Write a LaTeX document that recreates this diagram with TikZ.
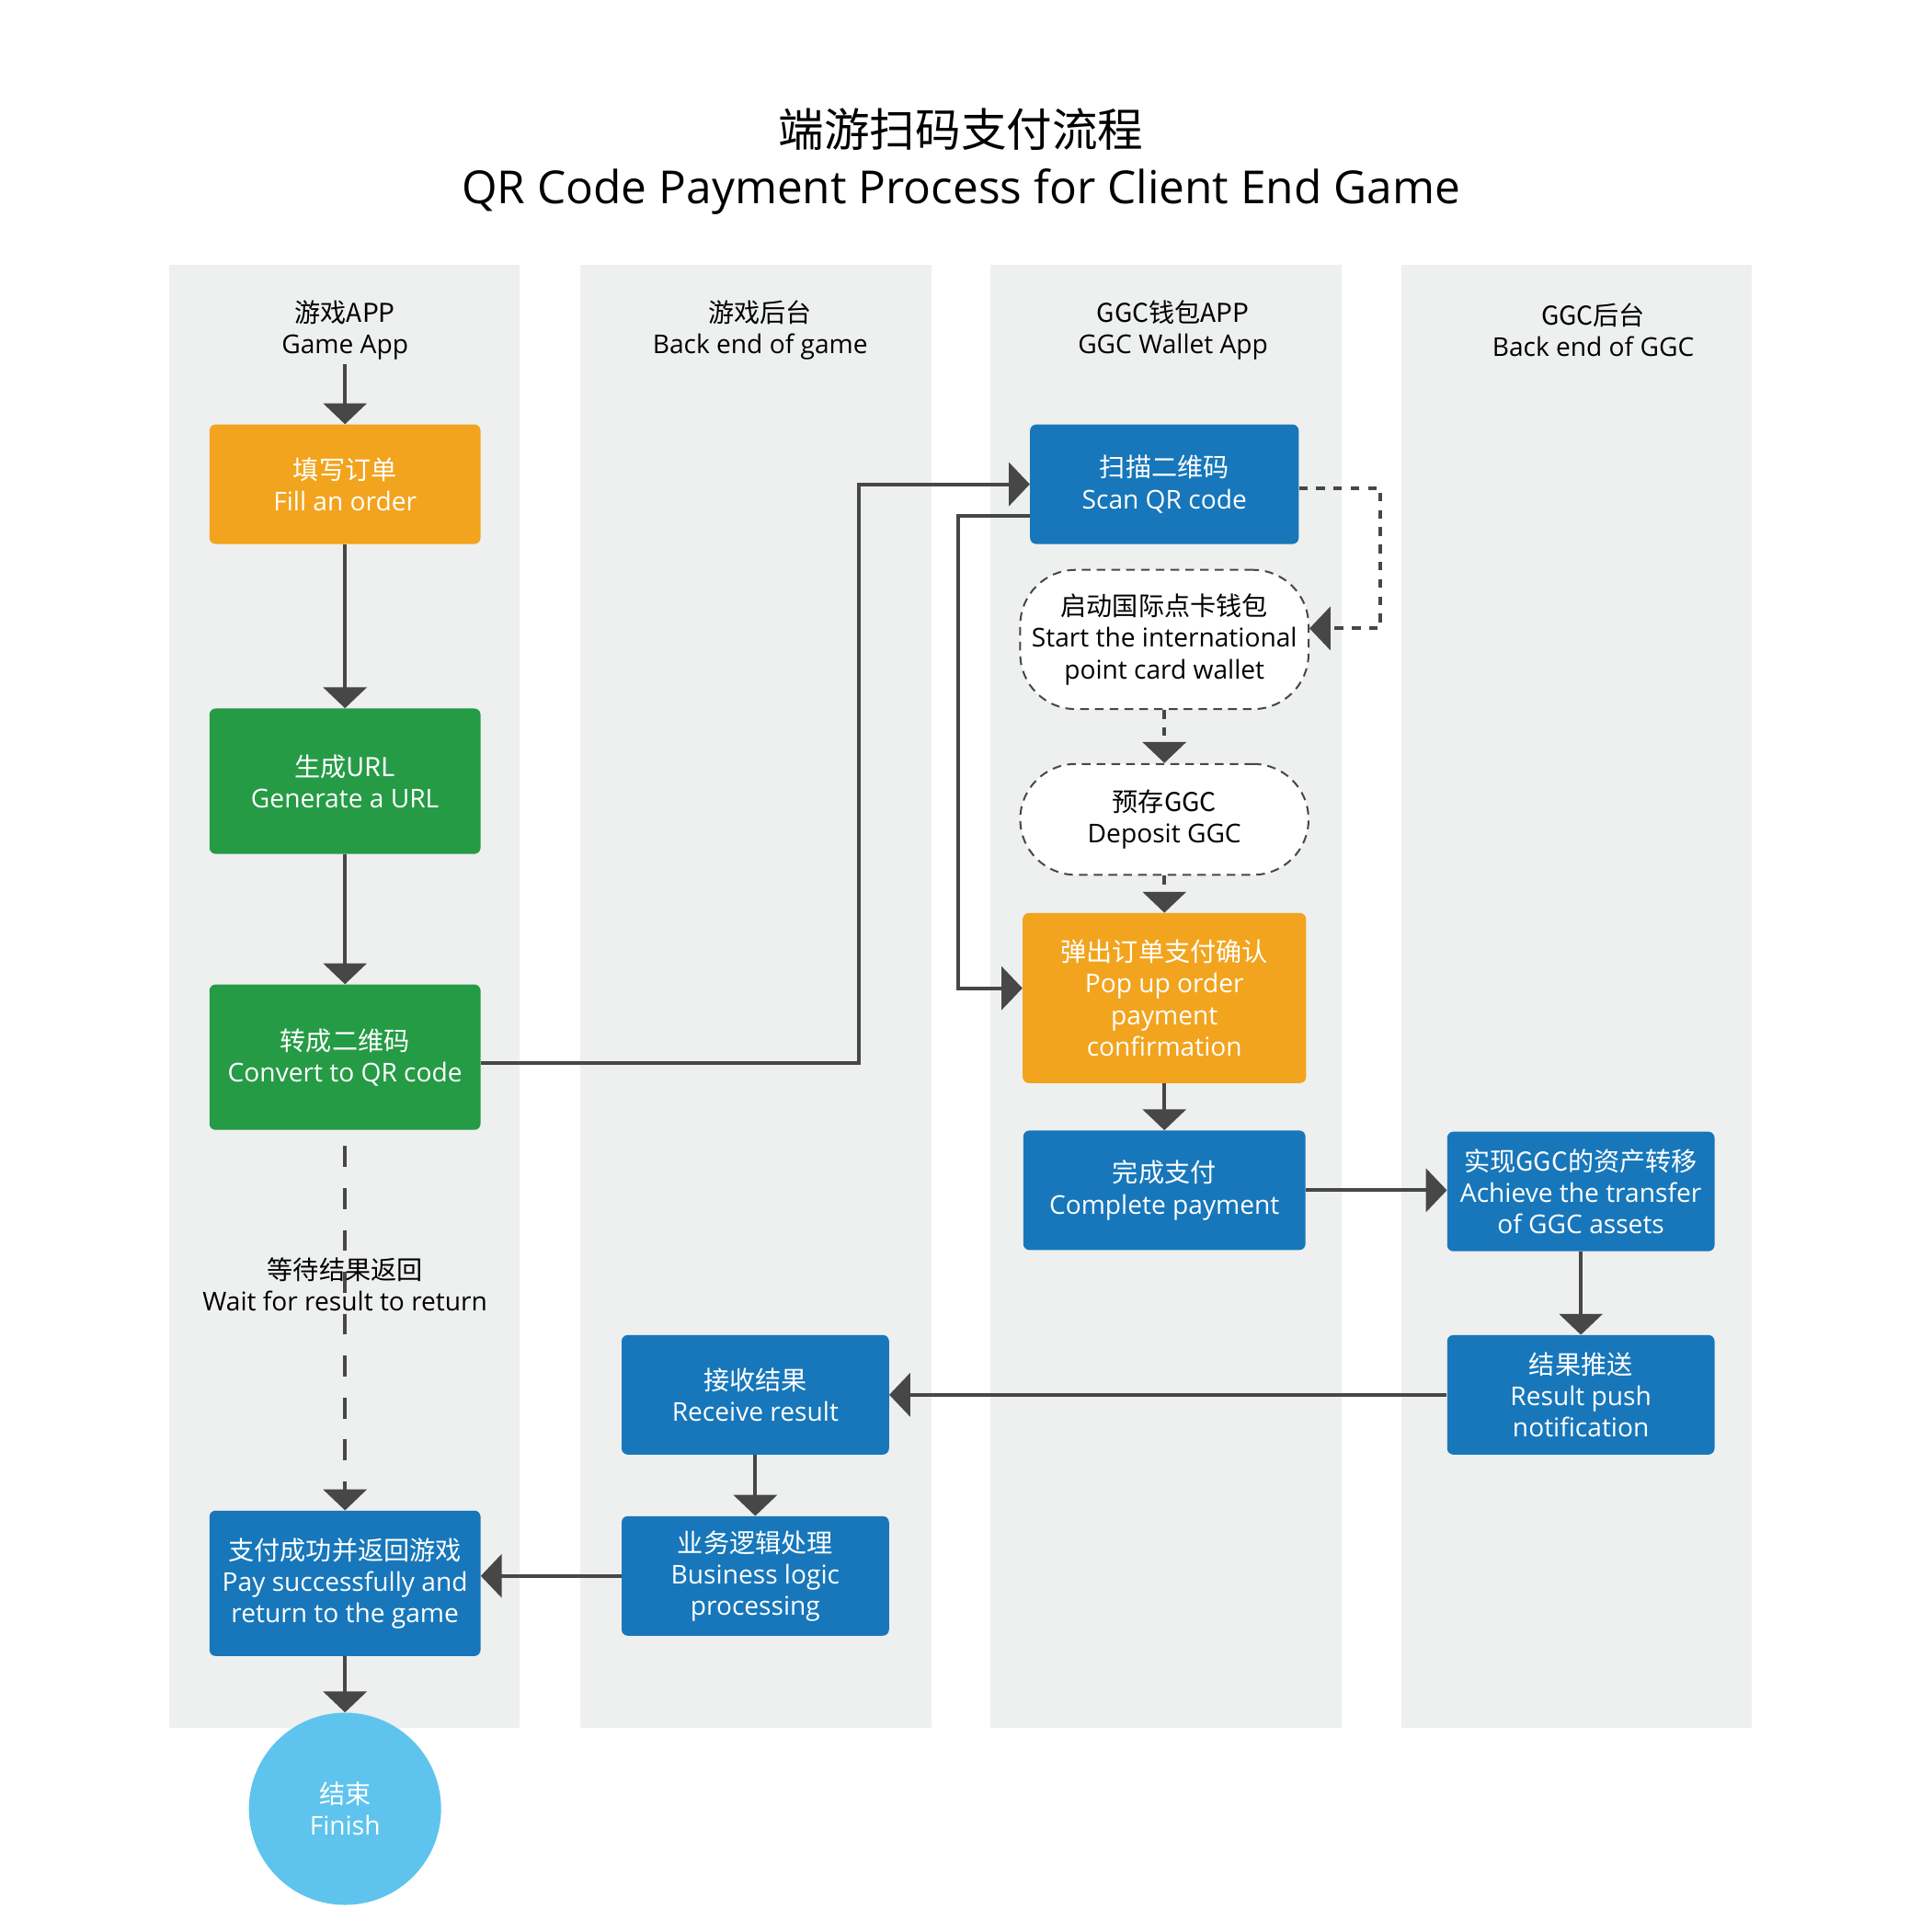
\documentclass[tikz,border=0pt]{standalone}
\usepackage{fontspec}
\setmainfont{Open Sans}
\newfontfamily\cjk{Noto Sans CJK SC}
\usetikzlibrary{arrows.meta,positioning}
\definecolor{laneGray}{HTML}{EEEFEF}
\definecolor{lineGray}{HTML}{474747}
\definecolor{payOrange}{HTML}{F2A41E}
\definecolor{payGreen}{HTML}{259B45}
\definecolor{payBlue}{HTML}{1777BA}
\definecolor{endBlue}{HTML}{5EC4ED}

\begin{document}
\begin{tikzpicture}[-,>={Triangle[length=17pt,width=35pt]},x=1pt,y=-1pt,
    box/.style={rounded corners=5pt,align=center,text=white,inner sep=1pt,font=\fontsize{21}{25.5}\selectfont},
    orange box/.style={box,fill=payOrange},
    green box/.style={box,fill=payGreen},
    blue box/.style={box,fill=payBlue},
    wallet box/.style={box,text=black,fill=white,draw=lineGray,line width=1.5pt,dash pattern=on 7pt off 5pt,rounded corners=45pt},
    lane title/.style={align=center,font=\fontsize{21}{25.5}\selectfont},
    flow/.style={->,draw=lineGray,line width=3pt},
    wait/.style={flow,dash pattern=on 17pt off 17pt},
    wallet flow/.style={flow,dash pattern=on 7pt off 7pt}]
    \useasboundingbox (0,0) rectangle (1568,1568);

    % swim lanes
    \foreach \x in {137,471,804,1137}
        \fill[laneGray] (\x,215) rectangle ++(285,1187);

    \node[align=center,font=\fontsize{37}{46}\selectfont] (title) at (780,131)
        {{\cjk 端游扫码支付流程}\\QR Code Payment Process for Client End Game};

    \node[lane title] (h1) at (280,268) {{\cjk 游戏APP}\\Game App};
    \node[lane title] (h2) at (617,268) {{\cjk 游戏后台}\\Back end of game};
    \node[lane title] (h3) at (952,268) {{\cjk GGC钱包APP}\\GGC Wallet App};
    \node[lane title] (h4) at (1293,268) {{\cjk GGC后台}\\Back end of GGC};

    % game app
    \node[orange box,minimum width=220pt,minimum height=97pt] (fill) at (280,393) {{\cjk 填写订单}\\Fill an order};
    \node[green box,minimum width=220pt,minimum height=118pt] (gen) at (280,634) {{\cjk 生成URL}\\Generate a URL};
    \node[green box,minimum width=220pt,minimum height=118pt] (conv) at (280,858) {{\cjk 转成二维码}\\Convert to QR code};
    \node[blue box,minimum width=220pt,minimum height=118pt] (pay) at (280,1285) {{\cjk 支付成功并返回游戏}\\Pay successfully and\\return to the game};
    \node[circle,fill=endBlue,text=white,align=center,minimum size=156pt,inner sep=0pt,font=\fontsize{21}{25.5}\selectfont] (finish) at (280,1468) {{\cjk 结束}\\Finish};

    % back end of game
    \node[blue box,minimum width=217pt,minimum height=97pt] (receive) at (613,1132) {{\cjk 接收结果}\\Receive result};
    \node[blue box,minimum width=217pt,minimum height=97pt] (logic) at (613,1279) {{\cjk 业务逻辑处理}\\Business logic\\processing};

    % GGC wallet app
    \node[blue box,minimum width=218pt,minimum height=97pt] (scan) at (945,393) {{\cjk 扫描二维码}\\Scan QR code};
    \node[wallet box,minimum width=234pt,minimum height=113pt] (start) at (945,519) {{\cjk 启动国际点卡钱包}\\Start the international\\point card wallet};
    \node[wallet box,minimum width=234pt,minimum height=90pt] (deposit) at (945,665) {{\cjk 预存GGC}\\Deposit GGC};
    \node[orange box,minimum width=230pt,minimum height=138pt] (popup) at (945,810) {{\cjk 弹出订单支付确认}\\Pop up order\\payment\\confirmation};
    \node[blue box,minimum width=229pt,minimum height=97pt] (complete) at (945,966) {{\cjk 完成支付}\\Complete payment};

    % back end of GGC
    \node[blue box,minimum width=217pt,minimum height=97pt] (assets) at (1283,967) {{\cjk 实现GGC的资产转移}\\Achieve the transfer\\of GGC assets};
    \node[blue box,minimum width=217pt,minimum height=97pt] (push) at (1283,1132) {{\cjk 结果推送}\\Result push\\notification};

    \draw[flow] (h1) -- (fill);
    \draw[flow] (fill) -- (gen);
    \draw[flow] (gen) -- (conv);
    \draw[flow] ([yshift=-5pt]conv.east) -- ++(307,0) |- (scan.west);
    \draw[flow] ([yshift=-26pt]scan.west) -- ++(-58,0) |- ([yshift=8pt]popup.west);
    \draw[wallet flow] ([yshift=-3pt]scan.east) -- ++(66,0) |- ([yshift=9pt]start.east);
    \draw[wallet flow] (start) -- (deposit);
    \draw[wallet flow] (deposit) -- (popup);
    \draw[flow] (popup) -- (complete);
    \draw[flow] (complete.east) -- (complete.east -| assets.west);
    \draw[flow] (assets) -- (push);
    \draw[flow] (push) -- (receive);
    \draw[flow] (receive) -- (logic);
    \draw[flow] (logic.west) -- (logic.west -| pay.east);
    \draw[wait] ([yshift=-13pt]conv.south) -- node[pos=0.38,align=center,font=\fontsize{21}{25.5}\selectfont] (waitlbl) {{\cjk 等待结果返回}\\Wait for result to return} (pay.north);
    \draw[flow] (pay) -- (finish);
\end{tikzpicture}
\end{document}
